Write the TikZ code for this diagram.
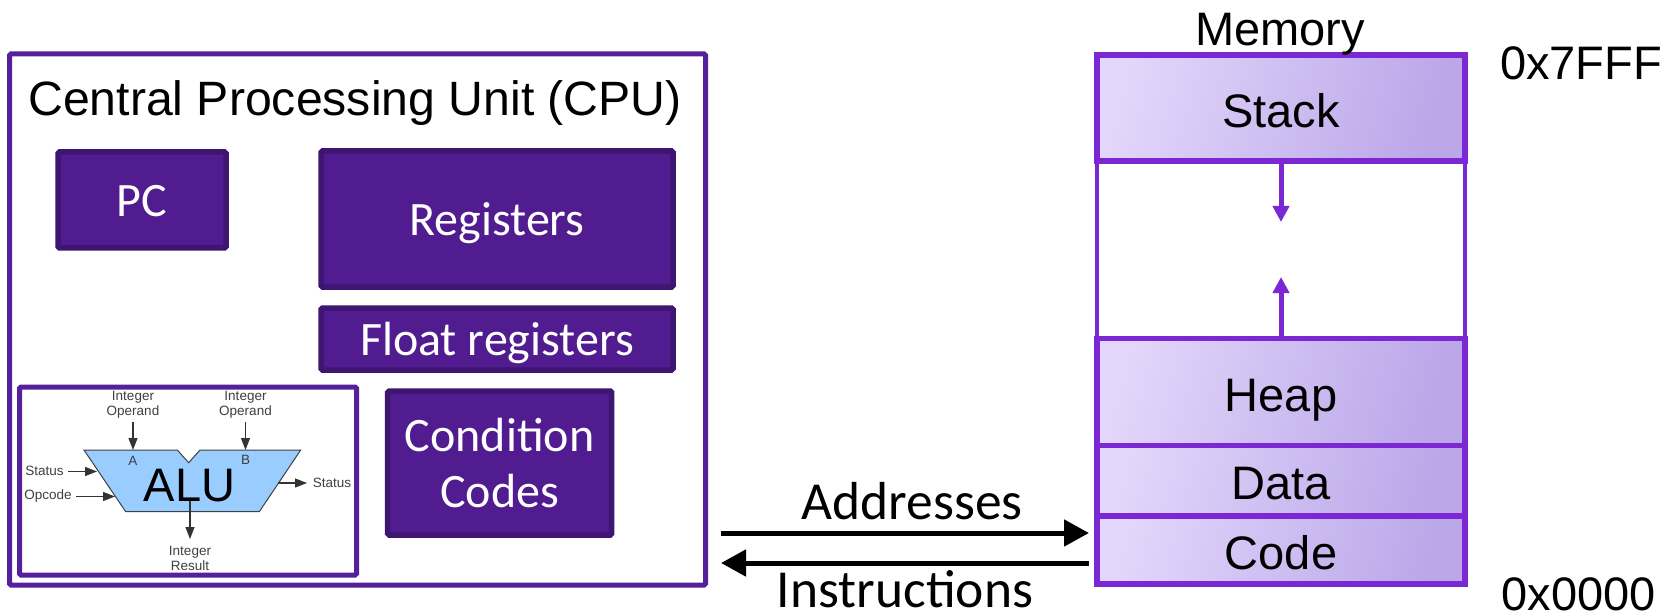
\documentclass[tikz,border=0pt]{standalone}
\usepackage{fontspec}
\setmainfont{Liberation Sans}
\newfontfamily\calfont{Carlito}
\usetikzlibrary{arrows.meta}
\newcommand\shiftdown[2]{\raisebox{0pt}[\dimexpr\height+#1*2\relax][\depth]{#2}}
\definecolor{dpurple}{HTML}{511C8F}
\definecolor{dedge}{HTML}{3E1570}
\definecolor{cpuedge}{HTML}{561F9B}
\definecolor{memedge}{HTML}{7B28D4}
\definecolor{memL}{HTML}{E2D6FB}
\definecolor{memM}{HTML}{CBB8F5}
\definecolor{memR}{HTML}{BBA6E8}
\definecolor{alublue}{HTML}{99CCFF}
\tikzset{
  box/.style={draw=dedge,fill=dpurple,line width=5.5pt,rounded corners=1.5pt,text=white,align=center,inner sep=0pt,font=\calfont\fontsize{48}{56}\selectfont},
  seg/.style={draw=memedge,line width=5.5pt,left color=memL,middle color=memM,right color=memR,shading angle=75,inner sep=0pt,font=\fontsize{47}{50}\selectfont},
  lab/.style={font=\fontsize{47}{50}\selectfont,inner sep=0pt,anchor=base},
  callab/.style={font=\calfont\fontsize{53.5}{56}\selectfont,inner sep=0pt,anchor=base},
  tiny/.style={font=\fontsize{13.5}{15}\selectfont,text=black!75,inner sep=0pt,align=center},
  thinarrow/.style={draw=black!80,line width=1.2pt,-{Triangle[length=12pt,width=9pt]}},
  memarrow/.style={draw=memedge,line width=5pt,-{Triangle[length=16pt,width=16pt]}},
  bus/.style={draw=black,line width=5pt,-{Triangle[length=25pt,width=26pt]}}
}
\begin{document}
\begin{tikzpicture}[x=1pt,y=-1pt]
\useasboundingbox (0,0) rectangle (1675,612);
\node[draw=cpuedge,line width=5pt,rounded corners=1.5pt,minimum width=696pt,minimum height=531pt,inner sep=0pt] (cpu) at (357.5,319.5) {};
\node[font=\fontsize{48.2}{50}\selectfont,inner sep=0pt,anchor=base] (cpulab) at (355,116) {Central Processing Unit (CPU)};
\node[box,minimum width=168pt,minimum height=96pt] (pc) at (142,200) {\shiftdown{1pt}{PC}};
\node[box,minimum width=352pt,minimum height=136pt] (reg) at (497,219) {\shiftdown{4.3pt}{Registers}};
\node[box,minimum width=352pt,minimum height=62pt] (flt) at (497,339) {\shiftdown{4.3pt}{Float registers}};
\node[box,minimum width=224pt,minimum height=144pt] (cc) at (499.7,463) {Condition\\Codes};
\node[draw=cpuedge,fill=white,line width=5pt,rounded corners=1.5pt,minimum width=337pt,minimum height=188pt,inner sep=0pt] (alubox) at (188,481) {};
\draw[draw=black!75,fill=alublue,line width=1pt] (84,450) -- (177.3,450) -- (188.7,462.7) -- (200,450) -- (300.7,450) -- (259.3,511.7) -- (125.7,511.7) -- cycle;
\node[tiny] (opa) at (133,405) {Integer\\Operand};
\node[tiny] (opb) at (245.5,405) {Integer\\Operand};
\node[tiny] (res) at (190,558) {Integer\\Result};
\node[tiny] (st1) at (44.5,471) {Status};
\node[tiny] (st2) at (332,483) {Status};
\node[tiny] (opc) at (48,496.5) {Opcode};
\node[tiny] (la) at (133,461) {A};
\node[tiny] (lb) at (245.5,460) {B};
\coordinate (opaT) at (133,422);\coordinate (opaB) at (133,450);
\coordinate (opbT) at (245.5,422);\coordinate (opbB) at (245.5,450);
\coordinate (st1R) at (68,471.5);\coordinate (st1B) at (97,471.5);
\coordinate (opcR) at (76,496.5);\coordinate (opcB) at (115,496.5);
\coordinate (st2A) at (278,483);\coordinate (st2B) at (307,483);
\coordinate (resA) at (190,498);\coordinate (resB) at (190,539);
\draw[thinarrow] (opaT) -- (opaB);
\draw[thinarrow] (opbT) -- (opbB);
\draw[thinarrow] (st1R) -- (st1B);
\draw[thinarrow] (opcR) -- (opcB);
\draw[thinarrow] (st2A) -- (st2B);
\draw[thinarrow] (resA) -- (resB);
\node[font=\fontsize{47}{50}\selectfont,inner sep=0pt,anchor=base] (alu) at (189.5,501) {ALU};
% memory
\node[draw=memedge,line width=4.5pt,fill=white,minimum width=368pt,minimum height=177pt,inner sep=0pt] (gap) at (1281,250) {};
\node[seg,minimum width=368pt,minimum height=106pt] (stack) at (1281,108) {\shiftdown{3pt}{Stack}};
\node[seg,minimum width=368pt,minimum height=107pt] (heap) at (1281,392) {\shiftdown{8.5pt}{Heap}};
\node[seg,minimum width=368pt,minimum height=71pt] (data) at (1281,481) {\shiftdown{3pt}{Data}};
\node[seg,minimum width=368pt,minimum height=68pt] (code) at (1281,550) {\shiftdown{3pt}{Code}};
\node[lab] (mem) at (1280,46) {Memory};
\coordinate (sdown) at (1281,222);
\coordinate (hup) at (1281,277);
\draw[memarrow] (stack.south) -- (sdown);
\draw[memarrow] (heap.north) -- (hup);
\node[lab] (hi) at (1581,80) {0x7FFF};
\node[lab] (lo) at (1578.5,610) {0x0000};
% bus
\coordinate (aL) at (721,533);
\coordinate (aR) at (1089,533);
\coordinate (iL) at (721,563);
\coordinate (iR) at (1089,563);
\draw[bus] (aL) -- (aR);
\draw[bus] (iR) -- (iL);
\node[callab] (addr) at (912,519) {Addresses};
\node[callab] (inst) at (905,607) {Instructions};
\end{tikzpicture}
\end{document}
